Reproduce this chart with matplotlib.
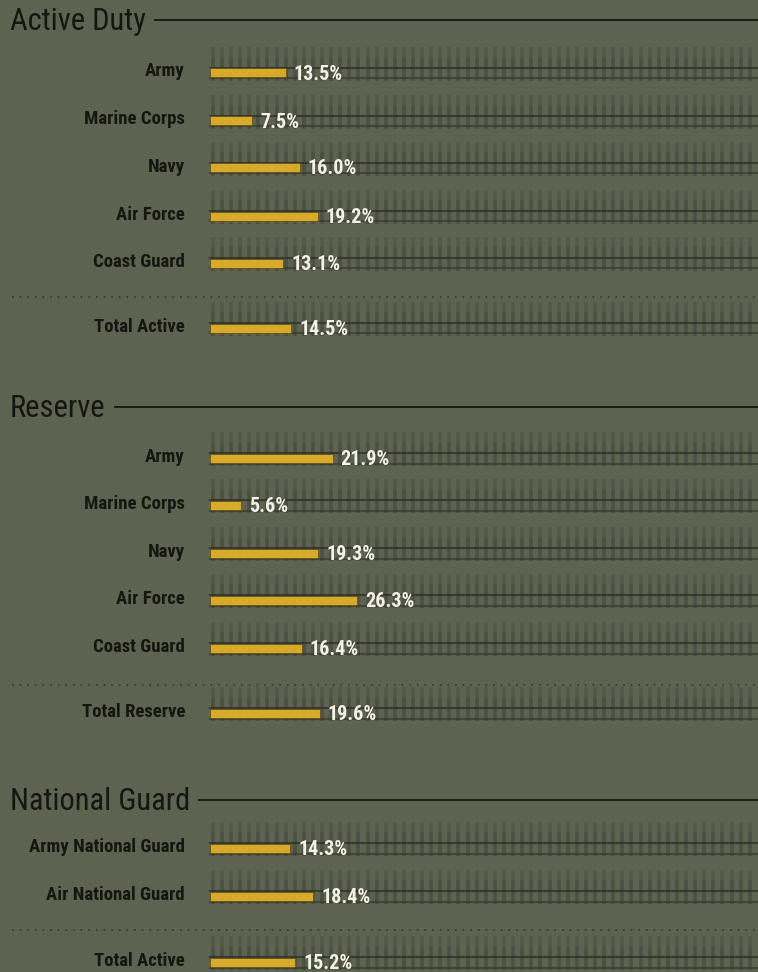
import matplotlib
matplotlib.use("Agg")
import matplotlib.pyplot as plt
import numpy as np
from matplotlib import font_manager

# ---- data ----
active_labels = ["Army", "Marine Corps", "Navy", "Air Force", "Coast Guard", "Total Active"]
active_values = [13.5, 7.5, 16.0, 19.2, 13.1, 14.5]
reserve_labels = ["Army", "Marine Corps", "Navy", "Air Force", "Coast Guard", "Total Reserve"]
reserve_values = [21.9, 5.6, 19.3, 26.3, 16.4, 19.6]
guard_labels = ["Army National Guard", "Air National Guard", "Total Active"]
guard_values = [14.3, 18.4, 15.2]
section_titles = ["Active Duty", "Reserve", "National Guard"]

# ---- layout (pixels) ----
W, H = 758, 972
X0 = 210          # pixel where 0% sits
PX = 5.6          # pixels per percent
sections = [
    dict(title=section_titles[0], ty=20, rows=[73, 121, 168, 216, 263, 328], dot=297,
         labels=active_labels, values=active_values),
    dict(title=section_titles[1], ty=407, rows=[458, 505, 553, 600, 648, 713], dot=685,
         labels=reserve_labels, values=reserve_values),
    dict(title=section_titles[2], ty=800, rows=[848, 896, 962], dot=930,
         labels=guard_labels, values=guard_values),
]

names = {f.name for f in font_manager.fontManager.ttflist}
cands = ["Roboto Condensed", "Liberation Sans Narrow", "Arial Narrow", "Roboto", "DejaVu Sans"]
FONT = [c for c in cands if c in names] or ["DejaVu Sans"]

BG = "#5e6251"
GOLD = "#d6ab2c"
TICK = "#474b3d"
DARK = "#151610"

fig = plt.figure(figsize=(W / 100, H / 100), dpi=100, facecolor=BG)
ax = fig.add_axes([0, 0, 1, 1])
ax.set_facecolor(BG)
ax.set_xlim(-X0 / PX, (W - X0) / PX)
ax.set_ylim(H, 0)
ax.axis("off")

xmax = (W - X0) / PX
tick_x = np.arange(0.5, xmax, 9.1 / PX)

for sec in sections:
    # header
    t = ax.text(-X0 / PX + 10 / PX, sec["ty"] + 1, sec["title"], fontsize=22, family=FONT,
                fontweight="normal", color=DARK, va="center", ha="left")
    fig.canvas.draw()
    bb = t.get_window_extent()
    x_end = ax.transData.inverted().transform((bb.x1, 0))[0]
    ax.plot([x_end + 8 / PX, xmax], [sec["ty"], sec["ty"]], color=DARK, lw=1.3, solid_capstyle="butt")
    # dotted separator
    ax.plot([-X0 / PX + 12 / PX, xmax], [sec["dot"], sec["dot"]], color="#2f3228", lw=1.1,
            linestyle=(0, (1, 4)))
    for y, lab, v in zip(sec["rows"], sec["labels"], sec["values"]):
        # background fence pattern
        ax.vlines(tick_x, y - 26, y + 8, color=TICK, lw=2.6, alpha=0.4, zorder=1)
        ax.vlines(tick_x, y - 16, y + 8, color=TICK, lw=2.6, alpha=0.55, zorder=1)
        ax.plot([0, xmax], [y - 5, y - 5], color="#2c2f25", lw=1.5, alpha=0.75, zorder=2)
        ax.plot([0, xmax], [y + 5.5, y + 5.5], color="#34382c", lw=1.5, alpha=0.65, zorder=2)
        # bar
        ax.barh(y, v, height=9, left=0, color=GOLD, edgecolor="#6b4f1a", linewidth=0.6, zorder=3)
        # labels
        ax.text(-25 / PX, y - 1.5, lab, ha="right", va="center", fontsize=13.5, fontweight="bold",
                family=FONT, color=DARK, zorder=4)
        ax.text(v + 8 / PX, y + 1, f"{v:.1f}%", ha="left", va="center", fontsize=14.5, fontweight="bold",
                family=FONT, color="#f4f1e6", zorder=4)

fig.savefig("out.png", dpi=100, facecolor=BG)
